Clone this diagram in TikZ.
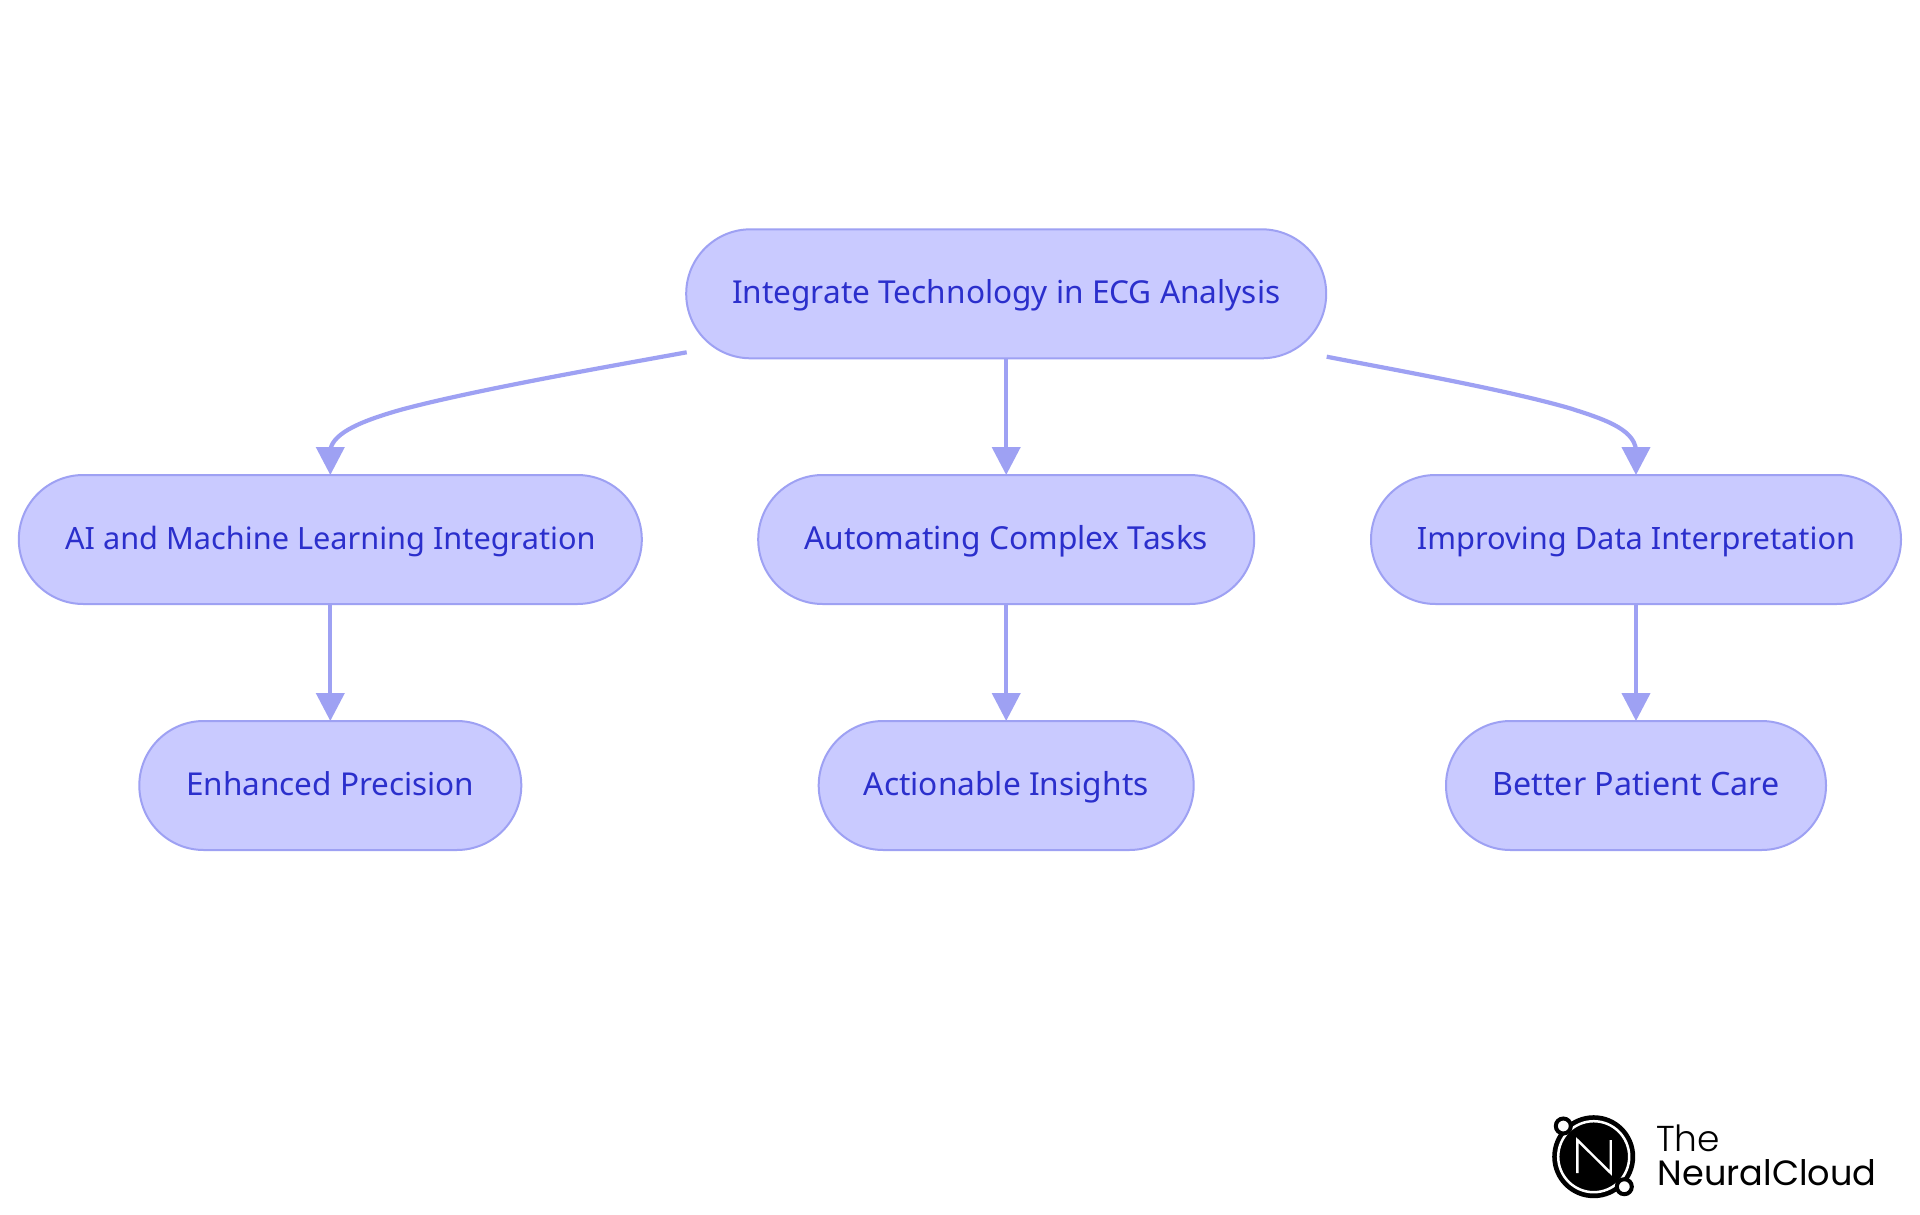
\documentclass[tikz,border=0pt]{standalone}
\usepackage{fontspec}
\setmainfont{Noto Sans}
\newfontfamily\logofont{Poppins}
\newfontfamily\logolight{Poppins Light}
\usetikzlibrary{arrows.meta}
\definecolor{boxfill}{HTML}{C9CAFF}
\definecolor{boxline}{HTML}{9EA1F3}
\definecolor{boxtext}{HTML}{2B2FCC}
\tikzset{
  pill/.style={draw=boxline,line width=2pt,fill=boxfill,text=boxtext,rounded corners=64.5pt,inner sep=0pt,outer sep=0pt,
    minimum height=129pt,text height=30pt,text depth=10pt,font=\fontsize{#1}{36}\selectfont},
  link/.style={draw=boxline,line width=4.2pt,-{Triangle[length=28pt,width=28pt]}}
}
\begin{document}
\begin{tikzpicture}[x=1pt,y=-1pt]
\useasboundingbox (0,0) rectangle (1920,1215);
\fill[white] (0,0) rectangle (1920,1215);
\node[pill=31.6,minimum width=640pt] (top) at (1006.2,293.8) {Integrate Technology in ECG Analysis};
\node[pill=30.7,minimum width=623pt] (ai) at (330.3,539.5) {AI and Machine Learning Integration};
\node[pill=31.7,minimum width=496pt] (auto) at (1006.2,539.5) {Automating Complex Tasks};
\node[pill=30.8,minimum width=530pt] (imp) at (1636,539.5) {Improving Data Interpretation};
\node[pill=31.5,minimum width=382pt] (enh) at (330.3,785.5) {Enhanced Precision};
\node[pill=31.7,minimum width=375pt] (act) at (1006.2,785.5) {Actionable Insights};
\node[pill=32.2,minimum width=380pt] (bet) at (1636,785.5) {Better Patient Care};
\coordinate (ls) at (686.7,352.3);
\coordinate (rs) at (1326.7,356.7);
\draw[link] (ls) .. controls (600,368) and (470,391) .. (400,410) .. controls (365,420) and (333,432) .. (330.3,450) -- (ai.north);
\draw[link] (rs) .. controls (1395,370) and (1505,389.5) .. (1570,408.3) .. controls (1600,418) and (1634,428) .. (1636,450) -- (imp.north);
\draw[link] (top) -- (auto);
\draw[link] (ai) -- (enh);
\draw[link] (auto) -- (act);
\draw[link] (imp) -- (bet);
% logo
\fill[black] (1593.7,1156.7) circle (41.5);
\draw[white,line width=2.5pt] (1593.7,1156.7) circle (35.5);
\draw[white,line width=2.4pt] (1577.3,1173) -- (1577.3,1140) -- (1610.7,1173) -- (1610.7,1140);
\draw[black,fill=white,line width=4pt] (1563.3,1126) circle (7.5);
\draw[black,fill=white,line width=4pt] (1624.3,1186.7) circle (7.5);
\node[anchor=base west,inner sep=0pt,font=\logolight\fontsize{36}{38}\selectfont] (the) at (1656,1151.7) {The};
\node[anchor=base west,inner sep=0pt,font=\logofont\fontsize{35.1}{38}\selectfont] (nc) at (1657.5,1185) {NeuralCloud};
\end{tikzpicture}
\end{document}
